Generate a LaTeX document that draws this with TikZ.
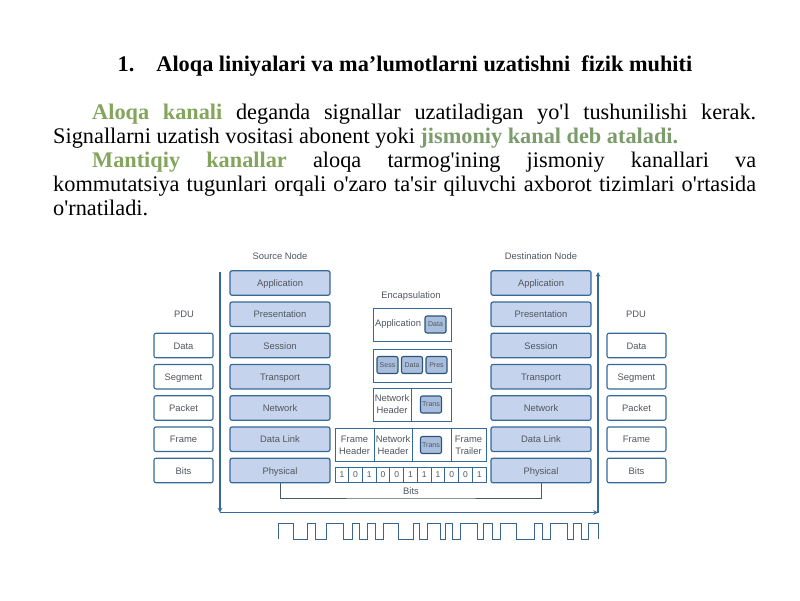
\documentclass[tikz,border=0pt]{standalone}
\usepackage{fontspec}
\newfontfamily\bodyfont{Liberation Serif}
\newfontfamily\diagfont{Liberation Sans}
\definecolor{edgeblue}{HTML}{35699A}
\definecolor{layerblue}{HTML}{C6D3EC}
\definecolor{tinyblue}{HTML}{A9BEDD}
\definecolor{greytext}{HTML}{50565E}
\definecolor{lightgreen}{HTML}{84A55C}
\definecolor{palegreen}{HTML}{7C9C6C}
\tikzset{
  layerbox/.style={draw=edgeblue,line width=1.2pt,fill=layerblue,rounded corners=2pt,minimum width=100pt,minimum height=24.5pt,inner sep=0pt,text height=8pt,text depth=1pt,font=\diagfont\fontsize{9.4}{11}\selectfont,text=greytext},
  pdubox/.style={draw=edgeblue,line width=1.1pt,fill=white,rounded corners=2pt,minimum width=59pt,minimum height=24.5pt,inner sep=0pt,text height=8pt,text depth=1pt,font=\diagfont\fontsize{9.4}{11}\selectfont,text=greytext},
  plainlabel/.style={inner sep=0pt,font=\diagfont\fontsize{9.4}{12}\selectfont,text=greytext,align=center},
  framecell/.style={draw=edgeblue,line width=1pt,fill=white,inner sep=0pt,minimum height=33pt,font=\diagfont\fontsize{9.4}{12}\selectfont,text=greytext,align=center},
  tinybox/.style={draw=edgeblue!80!black,line width=1.1pt,fill=tinyblue,rounded corners=2pt,minimum width=21pt,minimum height=17pt,inner sep=0pt,font=\diagfont\fontsize{7}{8}\selectfont,text=greytext},
  bitcell/.style={draw=edgeblue,line width=0.9pt,fill=white,minimum width=13.73pt,minimum height=14.5pt,inner sep=0pt,font=\diagfont\fontsize{8.5}{10}\selectfont,text=greytext},
  axisline/.style={draw=edgeblue,line width=1.1pt},
  bracket/.style={draw=greytext!85!edgeblue,line width=1pt},
  wave/.style={draw=edgeblue!80!greytext,line width=1pt}
}
\begin{document}
\begin{tikzpicture}[x=1pt,y=-1pt]
\useasboundingbox (0,0) rectangle (800,600);

% The heading and the paragraphs
\node[inner sep=0pt,font=\bodyfont\bfseries\fontsize{22.3}{26}\selectfont] (heading) at (405,66) {1.\hspace{22pt}Aloqa liniyalari va ma’lumotlarni uzatishni\ \ fizik muhiti};

\node[anchor=north west,inner sep=0pt,text width=703pt,align=justify,font=\bodyfont\fontsize{22.3}{24}\selectfont] (bodytext) at (53,104) {%
\hspace*{39pt}{\bfseries\color{lightgreen}Aloqa kanali} deganda signallar uzatiladigan yo'l tushunilishi kerak.\linebreak
Signallarni uzatish vositasi abonent yoki {\bfseries\color{palegreen}jismoniy kanal deb ataladi.}\par
\hspace*{39pt}{\bfseries\color{lightgreen}Mantiqiy kanallar} aloqa tarmog'ining jismoniy kanallari va\linebreak
kommutatsiya tugunlari orqali o'zaro ta'sir qiluvchi axborot tizimlari o'rtasida\linebreak
o'rnatiladi.};

% The two stacks of layers
\node[plainlabel] (srctitle) at (280,256) {Source Node};
\node[plainlabel] (dsttitle) at (541,256) {Destination Node};
\foreach \name/\ypos/\layer in {a/283/Application,b/314.3/Presentation,c/345.5/Session,d/376.7/Transport,e/408/Network,f/439.2/Data Link,g/470.5/Physical}{
  \node[layerbox] (src\name) at (280,\ypos) {\layer};
  \node[layerbox] (dst\name) at (541,\ypos) {\layer};
}

% The PDU columns
\node[plainlabel] (pduleft) at (184,314) {PDU};
\node[plainlabel] (pduright) at (636,314) {PDU};
\foreach \name/\ypos/\unit in {c/345.5/Data,d/376.7/Segment,e/408/Packet,f/439.2/Frame,g/470.5/Bits}{
  \node[pdubox] (pl\name) at (183.5,\ypos) {\unit};
  \node[pdubox] (pr\name) at (636.5,\ypos) {\unit};
}

% Encapsulation
\node[plainlabel] (enctitle) at (411,296) {Encapsulation};

\node[framecell,minimum width=78pt] (encapp) at (412,324.5) {};
\node[plainlabel] (encapptext) at (398,324) {Application};
\node[tinybox] (encappdata) at (435.5,324.5) {Data};

\node[framecell,minimum width=78pt] (encseg) at (412,365.5) {};
\node[tinybox] (encsess) at (387.5,365) {Sess};
\node[tinybox] (encdata) at (412,365) {Data};
\node[tinybox] (encpres) at (436.5,365) {Pres};

\node[framecell,minimum width=38pt] (encnet) at (392,404.5) {Network\\Header};
\node[framecell,minimum width=40pt] (encpack) at (431.5,404.5) {};
\node[tinybox] (encpacktiny) at (431,404.5) {Trans};

\node[framecell,minimum width=39pt] (framehead) at (354.5,445) {Frame\\Header};
\node[framecell,minimum width=38pt] (framenet) at (393,445) {Network\\Header};
\node[framecell,minimum width=39pt] (framepack) at (431.5,445) {};
\node[tinybox] (frametiny) at (431,445) {Trans};
\node[framecell,minimum width=35pt] (frametrail) at (468.5,445) {Frame\\Trailer};

% The bits under the frame
\foreach \bit [count=\i] in {1,0,1,0,0,1,1,1,0,0,1}{
  \node[bitcell] (bit\i) at ({335+13.73*(\i-0.5)},475) {\bit};
}
\node[plainlabel] (bitstext) at (411,491) {Bits};
\coordinate (bitsbar) at (411,498);
\draw[bracket] (srcg.south) |- (bitsbar) -| (dstg.south);

% The path through the stacks
\coordinate (axistl) at (220,272);
\coordinate (axisbl) at (220,512.5);
\coordinate (axisbr) at (598,512.5);
\coordinate (axistr) at (598,272);
\draw[axisline,-stealth] (axistl) -- (axisbl);
\draw[axisline,-stealth] (axisbl) -- (axisbr);
\draw[axisline,-stealth] (axisbr) -- (axistr);

% The signal on the wire
\draw[wave] (278,539) |- (293,523) |- (307,539) |- (315,523) |- (326,539) |- (343,523) |- (352,539) |- (359,523)
  |- (367,539) |- (375,523) |- (383,539) |- (398,523) |- (413,539) |- (419,523) |- (427,539) |- (440,523)
  |- (445,539) |- (452,523) |- (460,539) |- (477,523) |- (483,539) |- (492,523) |- (500,539) |- (516,523)
  |- (534,539) |- (542,523) |- (550,539) |- (567,523) |- (573,539) |- (581,523) |- (588,539) |- (598,523) -- (598,539);
\end{tikzpicture}
\end{document}
